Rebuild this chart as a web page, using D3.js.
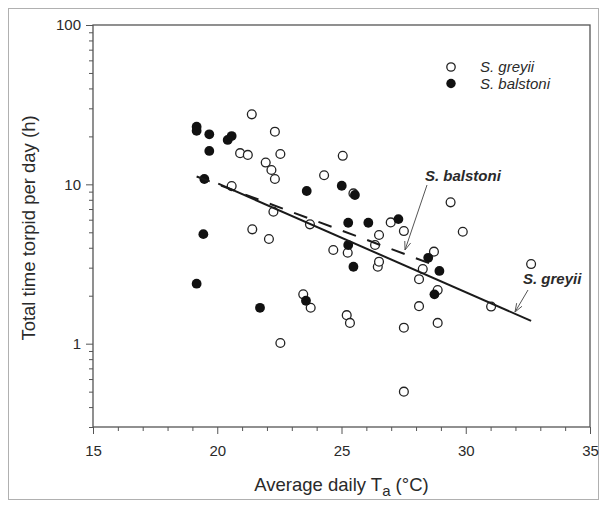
<!DOCTYPE html>
<html>
<head>
<meta charset="utf-8">
<script src="https://cdn.jsdelivr.net/npm/d3@7"></script>
<style>
  html, body { margin: 0; padding: 0; background: #fff; }
  svg { display: block; font-family: "Liberation Sans", Arial, sans-serif; }
</style>
</head>
<body>
<svg id="chart" width="601" height="510"></svg>
<script>
// ---- data ----
const greyiiT = [20.58, 20.92, 21.23, 21.39, 21.41, 21.95, 22.08, 22.18, 22.26, 22.32, 22.32, 22.54, 22.54,
  23.46, 23.73, 23.76, 24.30, 24.67, 25.05, 25.21, 25.25, 25.34, 25.48, 26.35, 26.46, 26.51, 26.51, 26.98,
  27.51, 27.51, 27.51, 28.12, 28.12, 28.27, 28.72, 28.87, 28.87, 29.39, 29.88, 31.02, 32.63];
const greyiiH = [9.75, 15.7, 15.3, 27.5, 5.22, 13.7, 4.54, 12.3, 6.73, 21.4, 10.8, 15.5, 1.01,
  2.04, 5.61, 1.68, 11.4, 3.87, 15.1, 1.51, 3.72, 1.35, 8.77, 4.16, 3.04, 3.27, 4.81, 5.77,
  5.09, 1.26, 0.50, 2.54, 1.72, 2.94, 3.78, 2.17, 1.35, 7.71, 5.04, 1.71, 3.16];
const balstoniT = [19.17, 19.17, 19.17, 19.44, 19.48, 19.68, 19.68, 20.42, 20.58, 21.72, 23.57, 23.60,
  25.01, 25.27, 25.27, 25.48, 25.54, 26.08, 27.29, 28.49, 28.74, 28.94];
const balstoniH = [23.0, 21.7, 2.38, 4.87, 10.8, 20.6, 16.2, 19.0, 20.1, 1.68, 1.86, 9.08,
  9.8, 5.74, 4.16, 3.04, 8.57, 5.74, 6.05, 3.46, 2.04, 2.86];
const greyiiFitT = [20.04, 32.63];
const greyiiFitH = [10.1, 1.39];
const balstoniFitT = [19.17, 28.94];
const balstoniFitH = [11.2, 3.03];
const xTicks = [15, 20, 25, 30, 35];
const yTicks = [1, 10, 100];
const legendLabels = ["S. greyii", "S. balstoni"];
const xTitle = "Average daily T";
const xTitleSub = "a";
const xTitleEnd = " (°C)";
const yTitle = "Total time torpid per day (h)";

// ---- layout ----
const svg = d3.select("#chart");
const L = 93, R = 590, T = 25, B = 427;
const x = d3.scaleLinear().domain([15, 35]).range([L, R]);
const y = d3.scaleLog().domain([0.3, 100]).range([B, T]);
const ink = "#2a2a2a";

// outer faint border
svg.append("rect").attr("x", 8.5).attr("y", 8.5).attr("width", 590).attr("height", 491)
  .attr("fill", "none").attr("stroke", "#b0b0b0").attr("stroke-width", 1);

// plot frame
svg.append("rect").attr("x", L).attr("y", T).attr("width", R - L).attr("height", B - T)
  .attr("fill", "none").attr("stroke", "#555").attr("stroke-width", 1.3);

// x axis
const xMinor = d3.range(15, 36, 1).filter(v => !xTicks.includes(v));
const xAxis = svg.append("g").attr("transform", `translate(0,${B})`)
  .call(d3.axisBottom(x).tickValues(xTicks).tickSize(7).tickFormat(d3.format("d")));
xAxis.select(".domain").remove();
xAxis.selectAll(".tick line").attr("stroke", "#555");
xAxis.selectAll("text").attr("font-size", 15).attr("fill", ink).attr("dy", "1.25em")
  .attr("font-family", "Liberation Sans, Arial, sans-serif");
svg.append("g").attr("transform", `translate(0,${B})`)
  .call(d3.axisBottom(x).tickValues(xMinor).tickSize(4).tickFormat(""))
  .call(g => g.select(".domain").remove())
  .selectAll(".tick line").attr("stroke", "#555");

// y axis
const yMinor = [];
[0.1, 1, 10].forEach(dec => { for (let k = 2; k <= 9; k++) { const v = k * dec; if (v >= 0.3 && v < 100) yMinor.push(v); } });
const yAxis = svg.append("g").attr("transform", `translate(${L},0)`)
  .call(d3.axisLeft(y).tickValues(yTicks).tickSize(7).tickFormat(d3.format("d")));
yAxis.select(".domain").remove();
yAxis.selectAll(".tick line").attr("stroke", "#555");
yAxis.selectAll("text").attr("font-size", 15).attr("fill", ink).attr("x", -12)
  .attr("font-family", "Liberation Sans, Arial, sans-serif");
svg.append("g").attr("transform", `translate(${L},0)`)
  .call(d3.axisLeft(y).tickValues(yMinor).tickSize(4).tickFormat(""))
  .call(g => g.select(".domain").remove())
  .selectAll(".tick line").attr("stroke", "#555");

// axis titles
const xt = svg.append("text").attr("x", (L + R) / 2).attr("y", 491)
  .attr("text-anchor", "middle").attr("font-size", 18.5).attr("fill", ink);
xt.append("tspan").text(xTitle);
xt.append("tspan").attr("dy", 5).attr("font-size", 15).text(xTitleSub);
xt.append("tspan").attr("dy", -5).text(xTitleEnd);

svg.append("text").attr("transform", `translate(35,${(T + B) / 2 + 2}) rotate(-90)`)
  .attr("text-anchor", "middle").attr("font-size", 18.5).attr("fill", ink).text(yTitle);

// points
const greyii = greyiiT.map((t, i) => ({ t, h: greyiiH[i] }));
const balstoni = balstoniT.map((t, i) => ({ t, h: balstoniH[i] }));
const rPt = 4.4;
svg.append("g").selectAll("circle").data(greyii).join("circle")
  .attr("cx", d => x(d.t)).attr("cy", d => y(d.h)).attr("r", rPt)
  .attr("fill", "#fff").attr("stroke", "#222").attr("stroke-width", 1.3);
svg.append("g").selectAll("circle").data(balstoni).join("circle")
  .attr("cx", d => x(d.t)).attr("cy", d => y(d.h)).attr("r", rPt + 0.5)
  .attr("fill", "#111");

// regression lines
const line = d3.line().x(d => x(d[0])).y(d => y(d[1]));
svg.append("path").datum(greyiiFitT.map((t, i) => [t, greyiiFitH[i]]))
  .attr("d", line).attr("fill", "none").attr("stroke", "#1a1a1a").attr("stroke-width", 2);
svg.append("path").datum(balstoniFitT.map((t, i) => [t, balstoniFitH[i]]))
  .attr("d", line).attr("fill", "none").attr("stroke", "#1a1a1a").attr("stroke-width", 2)
  .attr("stroke-dasharray", "14,12");

// legend
const lg = svg.append("g");
legendLabels.forEach((lab, i) => {
  const cy = 67 + i * 16.5;
  lg.append("circle").attr("cx", 451).attr("cy", cy).attr("r", i === 0 ? 4.2 : 4.7)
    .attr("fill", i === 0 ? "#fff" : "#111").attr("stroke", i === 0 ? "#222" : "none").attr("stroke-width", 1.3);
  lg.append("text").attr("x", 480).attr("y", cy + 5).attr("font-size", 15)
    .attr("font-style", "italic").attr("fill", ink).text(lab);
});

// annotations with arrows
function arrow(x1, y1, x2, y2) {
  svg.append("line").attr("x1", x1).attr("y1", y1).attr("x2", x2).attr("y2", y2)
    .attr("stroke", "#555").attr("stroke-width", 1);
  const a = Math.atan2(y2 - y1, x2 - x1), len = 9, sp = 0.35;
  const p1 = [x2 - len * Math.cos(a - sp), y2 - len * Math.sin(a - sp)];
  const p2 = [x2 - len * Math.cos(a + sp), y2 - len * Math.sin(a + sp)];
  svg.append("path").attr("d", `M${p1[0]},${p1[1]}L${x2},${y2}L${p2[0]},${p2[1]}`)
    .attr("fill", "none").attr("stroke", "#555").attr("stroke-width", 1);
}
svg.append("text").attr("x", 425).attr("y", 181).attr("font-size", 15)
  .attr("font-weight", "bold").attr("font-style", "italic").attr("fill", ink).text(legendLabels[1]);
arrow(427, 185, 405, 250);
svg.append("text").attr("x", 523).attr("y", 284).attr("font-size", 15)
  .attr("font-weight", "bold").attr("font-style", "italic").attr("fill", ink).text(legendLabels[0]);
arrow(528, 290, 515, 312);
</script>
</body>
</html>
